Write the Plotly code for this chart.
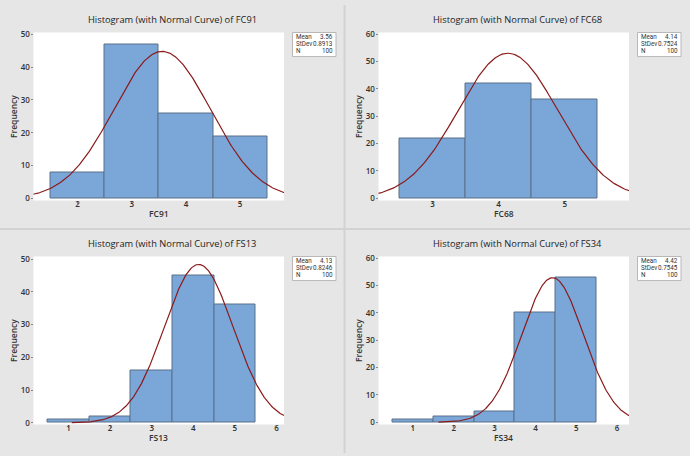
import numpy as np
import plotly.graph_objects as go

W, H = 690, 456

# ---- data ----
names = ["FC91", "FC68", "FS13", "FS34"]
bins_fc91 = [2, 3, 4, 5]
freq_fc91 = [8, 47, 26, 19]
bins_fc68 = [3, 4, 5]
freq_fc68 = [22, 42, 36]
bins_fs13 = [1, 2, 3, 4, 5]
freq_fs13 = [1, 2, 16, 45, 36]
bins_fs34 = [1, 2, 3, 4, 5]
freq_fs34 = [1, 2, 4, 40, 53]
means = [3.56, 4.14, 4.13, 4.42]
stdevs = [0.8913, 0.7524, 0.8246, 0.7545]
mean_labels = ["3.56", "4.14", "4.13", "4.42"]
stdev_labels = ["0.8913", "0.7524", "0.8246", "0.7545"]
n_obs = [100, 100, 100, 100]
xticks = [[2, 3, 4, 5], [3, 4, 5], [1, 2, 3, 4, 5, 6], [1, 2, 3, 4, 5, 6]]
yticks = [[0, 10, 20, 30, 40, 50], [0, 10, 20, 30, 40, 50, 60],
          [0, 10, 20, 30, 40, 50], [0, 10, 20, 30, 40, 50, 60]]
xranges = [[1.185, 5.81], [2.185, 5.97], [0.16, 6.18], [0.16, 6.29]]
yranges = [[-0.6, 50.5], [-0.8, 60.6], [-0.5, 50.8], [-0.8, 60.6]]

bins_all = [bins_fc91, bins_fc68, bins_fs13, bins_fs34]
freq_all = [freq_fc91, freq_fc68, freq_fs13, freq_fs34]

# panel origins (pixels)
origins = [(0, 0), (345, 0), (0, 228), (345, 228)]
PL, PR, PT, PB = 33.5, 284, 28, 199  # plot area within panel

BAR = "#7ba6d8"
EDGE = "#5b7089"
CURVE = "#8b1a1a"
FONT = "Open Sans"
SMALL = "Roboto"

def px(x):
    return x / W

def py(y):
    return 1 - y / H

fig = go.Figure()
annotations = []
shapes = []

for i in range(4):
    ox, oy = origins[i]
    xa = "x" if i == 0 else f"x{i+1}"
    ya = "y" if i == 0 else f"y{i+1}"
    fig.add_trace(go.Bar(
        x=bins_all[i], y=freq_all[i], width=1,
        marker=dict(color=BAR, line=dict(color=EDGE, width=1)),
        xaxis=xa, yaxis=ya, showlegend=False, hoverinfo="x+y"))
    mu, sd, n = means[i], stdevs[i], n_obs[i]
    lo = max(mu - 3.7 * sd, xranges[i][0] - 0.5)
    hi = min(mu + 3.7 * sd, xranges[i][1] + 0.5)
    xs = np.linspace(lo, hi, 300)
    ys = n * 1.0 * np.exp(-0.5 * ((xs - mu) / sd) ** 2) / (sd * np.sqrt(2 * np.pi))
    fig.add_trace(go.Scatter(
        x=xs, y=ys, mode="lines", line=dict(color=CURVE, width=1.2),
        xaxis=xa, yaxis=ya, showlegend=False, hoverinfo="skip"))

    axkey = "xaxis" if i == 0 else f"xaxis{i+1}"
    aykey = "yaxis" if i == 0 else f"yaxis{i+1}"
    fig.layout[axkey] = dict(
        domain=[px(ox + PL), px(ox + PR)], anchor=ya, range=xranges[i],
        tickvals=xticks[i], showgrid=False, zeroline=False, showline=False,
        ticks="outside", ticklen=2, tickcolor="#888888", ticklabelstandoff=-6,
        tickfont=dict(family=FONT, size=8, color="#333333", weight=600), fixedrange=True)
    fig.layout[aykey] = dict(
        domain=[py(oy + PB), py(oy + PT)], anchor=xa, range=yranges[i],
        tickvals=yticks[i], showgrid=False, zeroline=False, showline=False,
        ticks="outside", ticklen=2, tickcolor="#888888", ticklabelstandoff=-1,
        tickfont=dict(family=FONT, size=8, color="#333333", weight=600), fixedrange=True)

    # plot area background
    shapes.append(dict(type="rect", xref="paper", yref="paper",
                       x0=px(ox + PL), x1=px(ox + PR), y0=py(oy + PB), y1=py(oy + PT),
                       fillcolor="white", line=dict(width=0), layer="below"))
    # title
    annotations.append(dict(text=f"Histogram (with Normal Curve) of {names[i]}",
                            x=px(ox + 172), y=py(oy + 15), xref="paper", yref="paper",
                            showarrow=False, xanchor="center", yanchor="middle",
                            font=dict(family=FONT, size=9.3, color="#222222")))
    # axis labels
    annotations.append(dict(text=names[i], x=px(ox + 158.5), y=py(oy + 212.5),
                            xref="paper", yref="paper", showarrow=False,
                            xanchor="center", yanchor="middle",
                            font=dict(family=FONT, size=8.5, color="#333333", weight=600)))
    annotations.append(dict(text="Frequency", x=px(ox + 13.5), y=py(oy + 113.5),
                            xref="paper", yref="paper", showarrow=False, textangle=-90,
                            xanchor="center", yanchor="middle",
                            font=dict(family=FONT, size=8.5, color="#333333", weight=600)))
    # stats box
    bx0, bx1, by0, by1 = ox + 292.5, ox + 336, oy + 28, oy + 52.5
    shapes.append(dict(type="rect", xref="paper", yref="paper",
                       x0=px(bx0), x1=px(bx1), y0=py(by1), y1=py(by0),
                       fillcolor="white", line=dict(color="#b8b8b8", width=1)))
    rows = [("Mean", mean_labels[i]), ("StDev", stdev_labels[i]), ("N", str(n_obs[i]))]
    for r, (lab, val) in enumerate(rows):
        yy = oy + 32.2 + r * 7.4
        annotations.append(dict(text=lab, x=px(bx0 + 1.5), y=py(yy), xref="paper", yref="paper",
                                showarrow=False, xanchor="left", yanchor="middle",
                                font=dict(family=SMALL, size=6.3, color="#333333")))
        annotations.append(dict(text=val, x=px(bx1 - 1.5), y=py(yy), xref="paper", yref="paper",
                                showarrow=False, xanchor="right", yanchor="middle",
                                font=dict(family=SMALL, size=6.3, color="#333333")))

# panel dividers
shapes.append(dict(type="line", xref="paper", yref="paper", x0=px(344.5), x1=px(344.5),
                   y0=0, y1=1, line=dict(color="#d2d2d2", width=2)))
shapes.append(dict(type="line", xref="paper", yref="paper", x0=0, x1=1,
                   y0=py(228), y1=py(228), line=dict(color="#d2d2d2", width=2)))

fig.update_layout(width=W, height=H, margin=dict(l=0, r=0, t=0, b=0),
                  paper_bgcolor="#e6e6e6", plot_bgcolor="rgba(0,0,0,0)",
                  annotations=annotations, shapes=shapes, bargap=0)

fig.write_html("out.html")
